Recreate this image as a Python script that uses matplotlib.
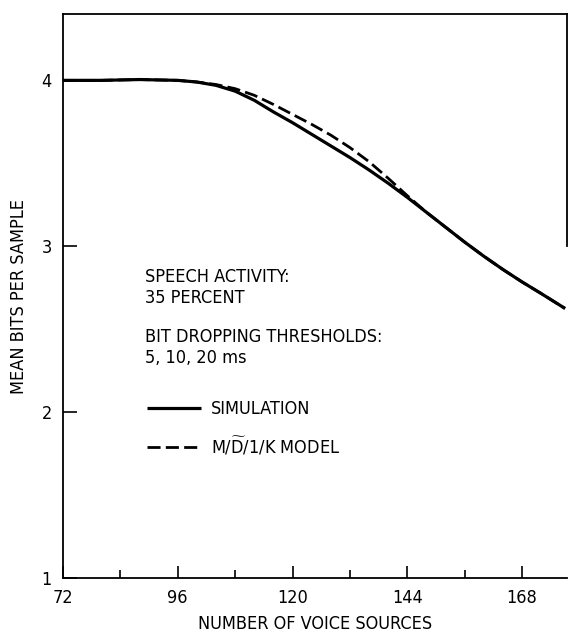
import matplotlib
matplotlib.use("Agg")
import matplotlib.pyplot as plt

plt.rcParams['font.family'] = ['DejaVu Sans']
plt.rcParams['font.stretch'] = 'condensed'
plt.rcParams['mathtext.fontset'] = 'dejavusans'

# number of voice sources
sources = [72, 80, 88, 96, 100, 104, 108, 112, 116, 120, 124, 128, 132,
           136, 140, 144, 148, 152, 156, 160, 164, 168, 172, 177]
# mean bits per sample, simulation
simulation = [4.00, 4.00, 4.005, 4.00, 3.99, 3.97, 3.935, 3.88, 3.81, 3.745,
              3.675, 3.605, 3.535, 3.46, 3.38, 3.295, 3.205, 3.115, 3.025,
              2.94, 2.86, 2.785, 2.715, 2.625]
# mean bits per sample, M/D~/1/K queue model
model = [4.00, 4.00, 4.005, 4.00, 3.99, 3.975, 3.95, 3.91, 3.855, 3.795,
         3.735, 3.67, 3.595, 3.51, 3.41, 3.305, 3.205, 3.115, 3.025,
         2.94, 2.86, 2.785, 2.715, 2.625]

major_x = [72, 96, 120, 144, 168]
minor_x = [84, 108, 132, 156]
major_y = [1, 2, 3, 4]

FS = 13

fig = plt.figure(figsize=(5.70, 6.37), dpi=100)
ax = fig.add_axes([0.1105, 0.0926, 0.8842, 0.8854])

ax.plot(sources, simulation, color='black', lw=2.3, solid_capstyle='butt',
        label='SIMULATION')
ax.plot(sources, model, color='black', lw=2.0, dashes=(4.7, 1.9),
        label=r'M/$\widetilde{\mathrm{D}}$/1/K MODEL')

ax.set_xlim(72, 177.4)
ax.set_ylim(1, 4.40)

for side in ['left', 'bottom', 'top', 'right']:
    ax.spines[side].set_linewidth(1.3)
ax.spines['right'].set_bounds(3.0, 4.40)

ax.set_xticks(major_x)
ax.set_xticks(minor_x, minor=True)
ax.set_yticks(major_y)
ax.tick_params(axis='x', which='major', direction='in', length=9, width=1.2,
               labelsize=FS, pad=8)
ax.tick_params(axis='x', which='minor', direction='in', length=6, width=1.2)
ax.tick_params(axis='y', which='major', direction='in', length=10, width=1.2,
               labelsize=FS, pad=8)

ax.set_xlabel('NUMBER OF VOICE SOURCES', fontsize=FS, labelpad=6)
ax.set_ylabel('MEAN BITS PER SAMPLE', fontsize=FS, labelpad=10)

notes = [
    ('SPEECH ACTIVITY:', 0.533),
    ('35 PERCENT', 0.496),
    ('BIT DROPPING THRESHOLDS:', 0.427),
    ('5, 10, 20 ms', 0.390),
]
for txt, yy in notes:
    ax.text(0.163, yy, txt, transform=ax.transAxes, fontsize=FS,
            ha='left', va='center')

ax.legend(loc='center left', bbox_to_anchor=(0.166, 0.265), frameon=False,
          fontsize=FS, handlelength=3.0, handletextpad=0.55, labelspacing=0.95,
          borderpad=0, borderaxespad=0)

fig.savefig('out.png', dpi=100)
